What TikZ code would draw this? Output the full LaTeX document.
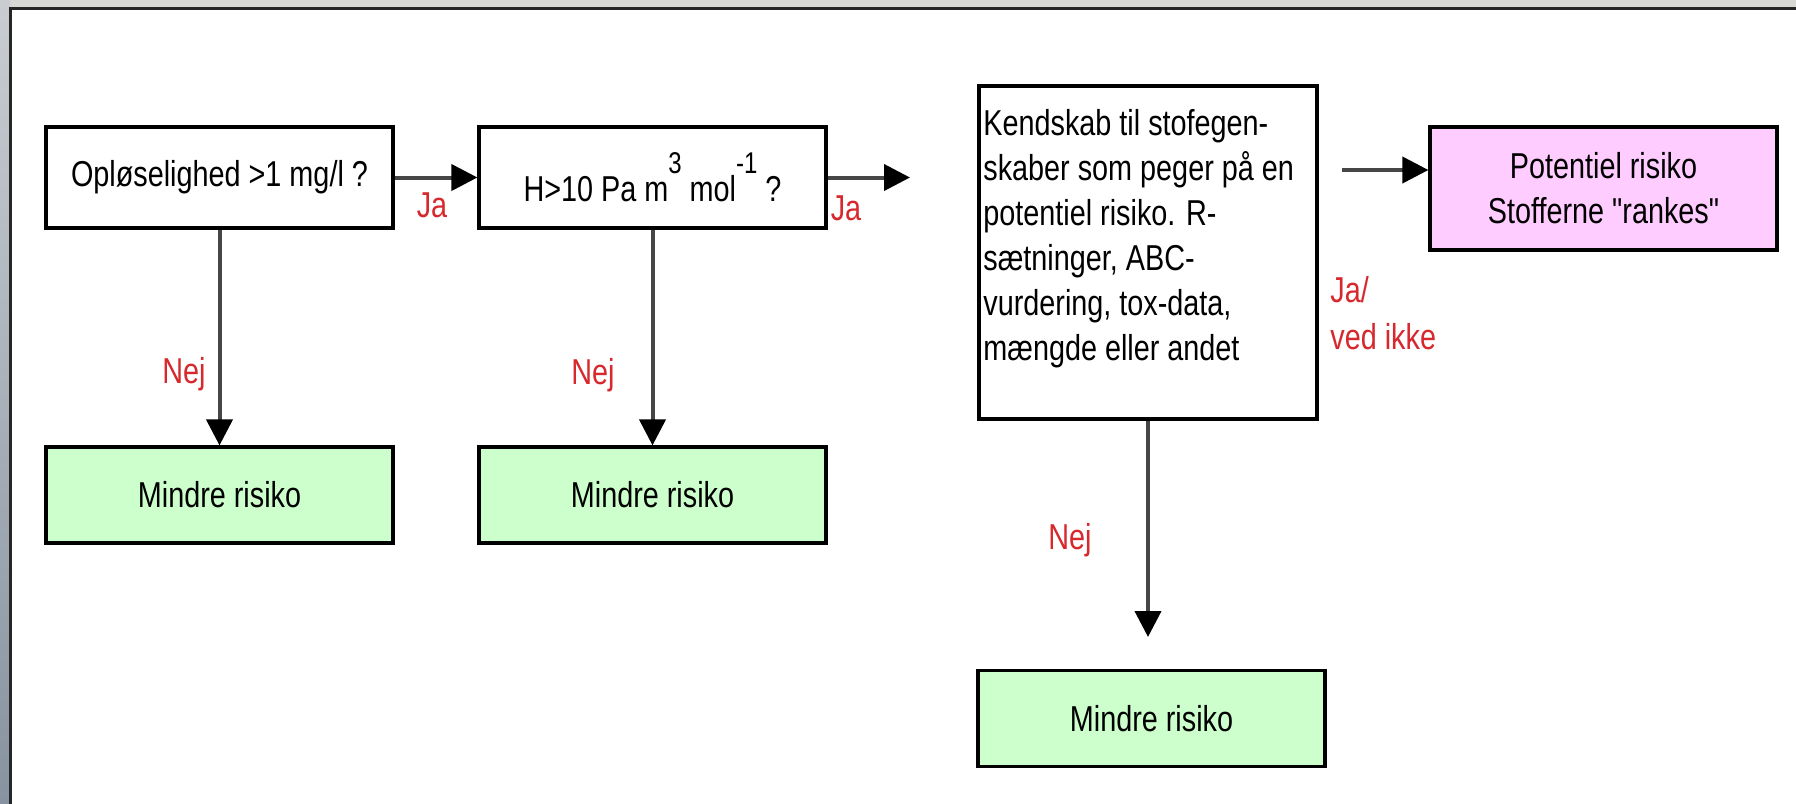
\documentclass[tikz,border=0pt]{standalone}
\usepackage{fontspec}
\setmainfont{Liberation Sans}[FakeStretch=0.8, Ligatures=TeXOff]
\usetikzlibrary{arrows.meta, positioning}

\definecolor{groen}{HTML}{CCFFCC}
\definecolor{lilla}{HTML}{FFCCFF}
\definecolor{svarrod}{RGB}{215,40,45}
\definecolor{kantlys}{HTML}{C9CDD1}
\definecolor{kantmoerk}{HTML}{8793A0}
\definecolor{kanttop}{HTML}{D8D8D4}

\newcommand{\hoej}[1]{\raisebox{14pt}{\fontsize{15}{15}\selectfont #1}}

\tikzset{
  boks/.style={draw=black, line width=1.6pt, fill=white, minimum width=173.5pt,
    minimum height=50.5pt, inner sep=3pt, font=\fontsize{18}{22.5}\selectfont},
  groenboks/.style={boks, fill=groen, minimum height=48pt},
  svar/.style={text=svarrod, inner sep=0pt, font=\fontsize{18}{23.5}\selectfont},
  pil/.style={line width=2pt, gray!55!black,
    -{Triangle[length=13pt, width=13pt, color=black]}}
}

\begin{document}
\begin{tikzpicture}[x=0.5pt, y=-0.5pt]
	\def\kA{219.5};
	\def\kB{652.5};
	\def\kC{1148};
	\def\rOp{177.5};
	\def\rNed{495};

	\useasboundingbox (0,0) rectangle (1796,804);

	\begin{scope}
		\fill [kanttop] (0,0) rectangle (1796,8);
		\shade [top color=kantlys, bottom color=kantmoerk] (0,0) rectangle (10,804);
		\fill [white] (10,8) rectangle (1796,804);
		\draw [line width=1.5pt, black!85] (10,804) -- (10,8) -- (1796,8);
	\end{scope}

	\node[boks] (opl) at (\kA,\rOp) {Opløselighed >1 mg/l ?};
	\node[boks] (hen) at (\kB,\rOp) {H>10 Pa m\hoej{3} mol\hoej{-1} ?};
	\node[boks, minimum width=169pt, minimum height=166.5pt] (viden) at (\kC,252.5) {};
	\node[anchor=north west, align=left, inner sep=0pt,
		font=\fontsize{18}{22.5}\selectfont] (videntekst) at (983,109)
		{Kendskab til stofegen-\\skaber som peger på en\\potentiel risiko. R-\\sætninger, ABC-\\vurdering, tox-data,\\mængde eller andet};
	\node[boks, fill=lilla, minimum height=61.5pt, align=center] (pot) at (1603.5,188.5)
		{Potentiel risiko\\Stofferne "rankes"};

	\node[groenboks] (mindre1) at (\kA,\rNed) {Mindre risiko};
	\node[groenboks] (mindre2) at (\kB,\rNed) {Mindre risiko};
	\node[groenboks] (mindre3) at (1151.5,718.5) {Mindre risiko};

	\coordinate (ende2) at (910,\rOp);
	\coordinate (start3) at (1342,170);
	\coordinate (ende3) at (\kC,637);

	\begin{scope}
		\draw[pil] (opl.east) -- (hen.west);
		\draw[pil] (hen.east) -- (ende2);
		\draw[pil] (start3) -- (start3 -| pot.west);
		\draw[pil] (opl) -- (mindre1);
		\draw[pil] (hen) -- (mindre2);
		\draw[pil] (viden) -- (ende3);
	\end{scope}

	\node[svar] (svarja1) at (432,205) {Ja};
	\node[svar] (svarja2) at (846,208) {Ja};
	\node[svar, align=left, anchor=west] (svarjv) at (1330,313) {Ja/\\ved ikke};
	\node[svar] (svarnej1) at (184,374) {Nej};
	\node[svar] (svarnej2) at (593,375) {Nej};
	\node[svar] (svarnej3) at (1070,540) {Nej};
\end{tikzpicture}
\end{document}
